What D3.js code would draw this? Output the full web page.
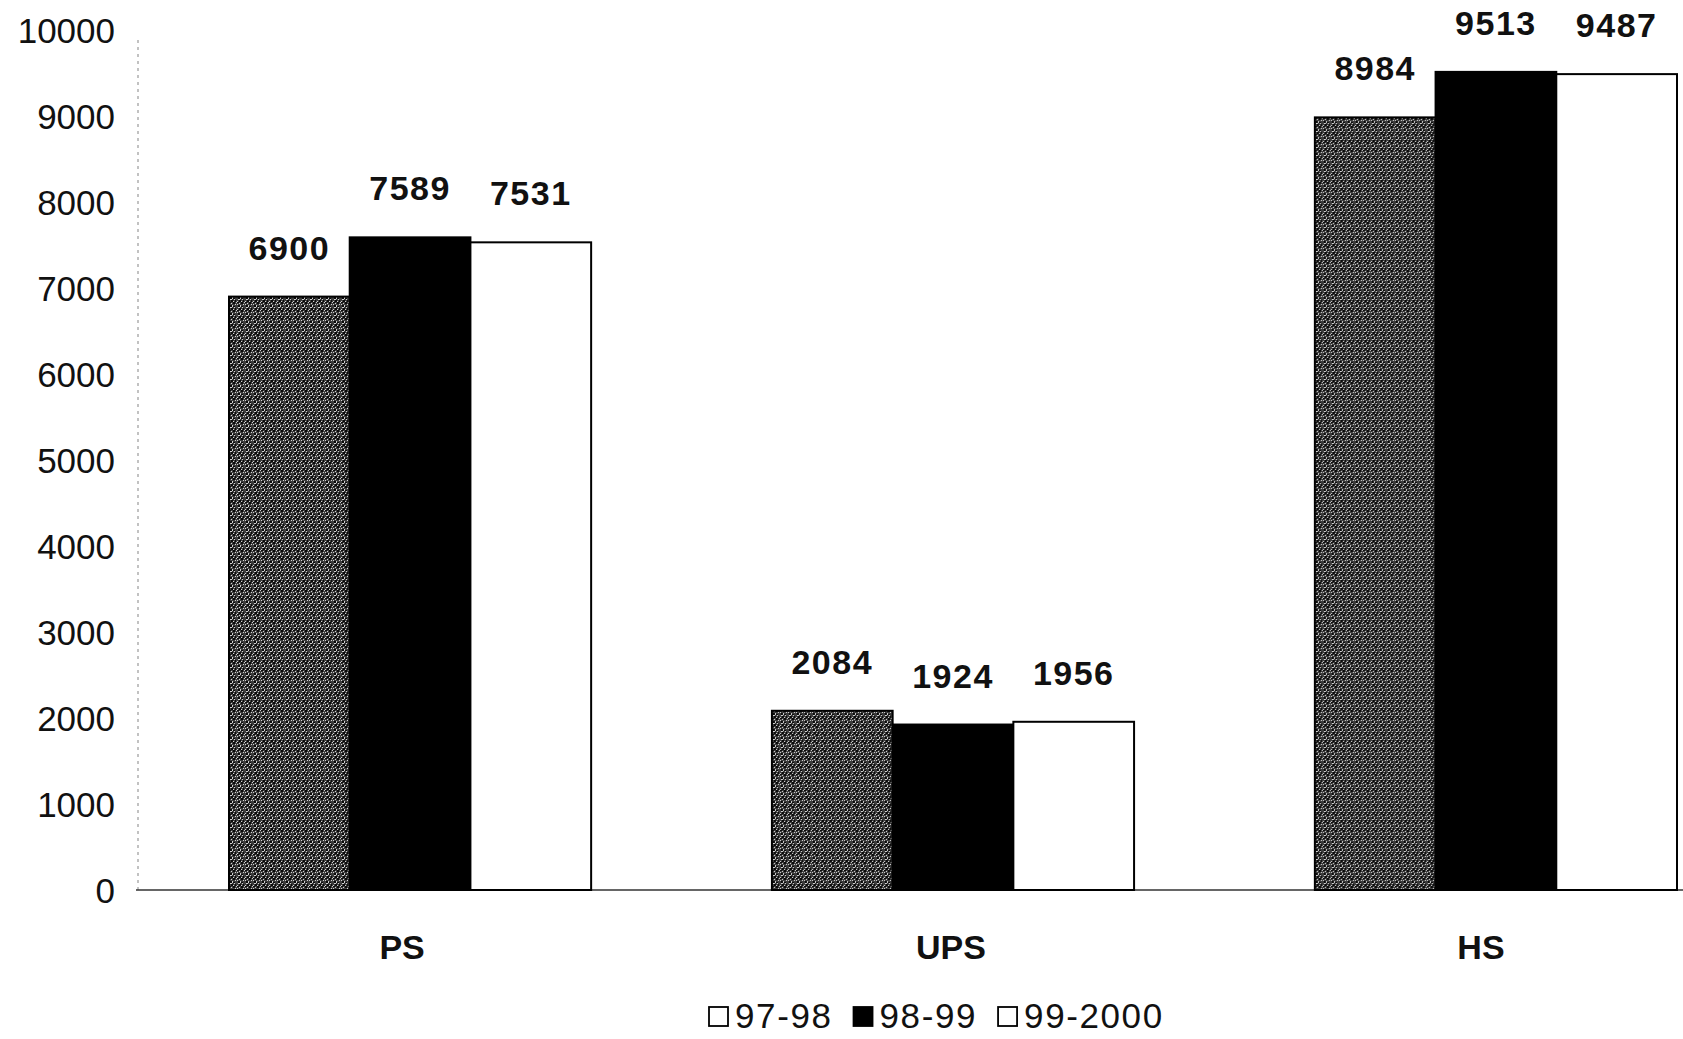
<!DOCTYPE html>
<html>
<head>
<meta charset="utf-8">
<script src="https://cdn.jsdelivr.net/npm/d3@7"></script>
<style>
  html, body { margin: 0; padding: 0; background: #fff; }
  svg { display: block; font-family: "Liberation Sans", Arial, Helvetica, sans-serif; }
</style>
</head>
<body>
<svg id="chart" width="1683" height="1039"></svg>
<script>
// ---- data ----
const categories = ["PS", "UPS", "HS"];
const seriesNames = ["97-98", "98-99", "99-2000"];
const values9798 = [6900, 2084, 8984];
const values9899 = [7589, 1924, 9513];
const values9900 = [7531, 1956, 9487];
const yTicks = [0, 1000, 2000, 3000, 4000, 5000, 6000, 7000, 8000, 9000, 10000];

const seriesValues = [values9798, values9899, values9900];

// ---- layout ----
const W = 1683, H = 1039;
const svg = d3.select("#chart");

// stipple pattern for the 97-98 series
const defs = svg.append("defs");
const pat = defs.append("pattern")
  .attr("id", "stipple").attr("patternUnits", "userSpaceOnUse")
  .attr("width", 8).attr("height", 8);
pat.append("rect").attr("width", 8).attr("height", 8).attr("fill", "#3c3c3c");
const dots = [[0,0,1,1],[3,1,1,2],[6,0,1,1],[1,3,2,1],[5,3,1,1],[0,5,1,1],[3,5,2,1],[7,6,1,1],[2,7,1,1],[5,7,1,1]];
pat.selectAll("rect.d").data(dots).enter().append("rect")
  .attr("class", "d")
  .attr("x", d => d[0]).attr("y", d => d[1]).attr("width", d => d[2]).attr("height", d => d[3])
  .attr("fill", "#d0d0d0");
const dark = [[1,1,2,2],[4,2,2,1],[6,4,1,2],[2,4,2,2],[0,6,2,1],[4,6,2,2]];
pat.selectAll("rect.k").data(dark).enter().append("rect")
  .attr("class", "k")
  .attr("x", d => d[0]).attr("y", d => d[1]).attr("width", d => d[2]).attr("height", d => d[3])
  .attr("fill", "#0a0a0a");

const fills = ["url(#stipple)", "#000", "#fff"];

const x0 = d3.scaleBand().domain(categories).range([229, 1677]).paddingInner(0.333).paddingOuter(0);
const x1 = d3.scaleBand().domain(seriesNames).range([0, x0.bandwidth()]).padding(0);
const y = d3.scaleLinear().domain([0, 10000]).range([890, 30]);

// axes lines
svg.append("line")
  .attr("x1", 138).attr("x2", 138).attr("y1", y(10000) + 10).attr("y2", y(0))
  .attr("stroke", "#9a9a9a").attr("stroke-width", 1.2).attr("stroke-dasharray", "3,4");
svg.append("line")
  .attr("x1", 136).attr("x2", W).attr("y1", y(0)).attr("y2", y(0))
  .attr("stroke", "#333").attr("stroke-width", 1.5);

// y tick labels via axis
const yAxis = d3.axisLeft(y).tickValues(yTicks).tickSize(0).tickPadding(0).tickFormat(d3.format("d"));
const yg = svg.append("g").attr("transform", "translate(115,0)").call(yAxis);
yg.select(".domain").remove();
yg.selectAll("text")
  .attr("font-size", 35).attr("fill", "#111")
  .attr("font-family", "'Liberation Sans', Arial, sans-serif")
  .attr("dy", "0.35em");

// x category labels via axis
const xAxis = d3.axisBottom(x0).tickSize(0).tickPadding(0);
const xg = svg.append("g").attr("transform", "translate(0,959)").call(xAxis);
xg.select(".domain").remove();
xg.selectAll("text")
  .attr("font-size", 34).attr("font-weight", "bold").attr("fill", "#111")
  .attr("font-family", "'Liberation Sans', Arial, sans-serif")
  .attr("dy", 0).attr("y", 0)
  .attr("dx", (d, i) => [-8, -2, -15][i]);

// bars
const groups = svg.append("g").selectAll("g.grp")
  .data(categories).enter().append("g")
  .attr("class", "grp")
  .attr("transform", d => `translate(${x0(d)},0)`);

const barData = (cat, ci) => seriesNames.map((s, si) => ({ s, si, v: seriesValues[si][ci] }));

groups.each(function(cat, ci) {
  const g = d3.select(this);
  const data = barData(cat, ci);
  g.selectAll("rect.bar").data(data).enter().append("rect")
    .attr("class", "bar")
    .attr("x", d => x1(d.s))
    .attr("y", d => y(d.v))
    .attr("width", x1.bandwidth())
    .attr("height", d => y(0) - y(d.v))
    .attr("fill", d => fills[d.si])
    .attr("stroke", "#000")
    .attr("stroke-width", 2);
  g.selectAll("text.val").data(data).enter().append("text")
    .attr("class", "val")
    .attr("x", d => x1(d.s) + x1.bandwidth() / 2)
    .attr("y", d => Math.max(y(d.v) - 37, 32))
    .attr("text-anchor", "middle")
    .attr("font-size", 34).attr("font-weight", "bold")
    .attr("letter-spacing", 1.5)
    .attr("fill", "#111")
    .text(d => d.v);
});

// legend
const legend = svg.append("g").attr("transform", "translate(708,1028)");
let lx = 0;
seriesNames.forEach((s, i) => {
  const item = legend.append("g").attr("transform", `translate(${lx},0)`);
  item.append("rect")
    .attr("x", 1).attr("y", -21).attr("width", 19).attr("height", 19)
    .attr("fill", i === 1 ? "#000" : "#fff")
    .attr("stroke", "#000").attr("stroke-width", 1.8);
  const t = item.append("text")
    .attr("x", 27).attr("y", 0)
    .attr("font-size", 35).attr("letter-spacing", 1.6).attr("fill", "#111")
    .text(s);
  lx += 27 + t.node().getComputedTextLength() + 20;
});
</script>
</body>
</html>
